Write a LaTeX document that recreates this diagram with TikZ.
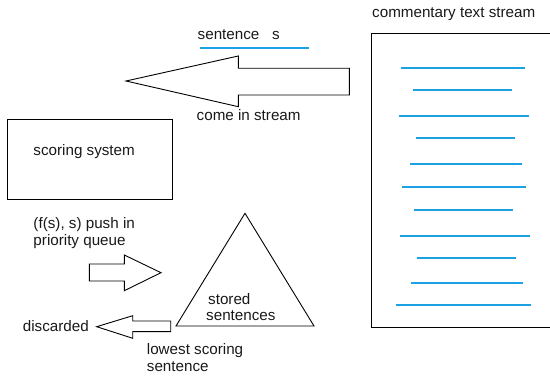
\documentclass[tikz,border=0pt]{standalone}
\usepackage{fontspec}
\setmainfont{Liberation Sans}
\definecolor{streamblue}{RGB}{28,162,228}
\definecolor{inkgray}{RGB}{25,25,25}
\tikzset{
  lbl/.style={anchor=base west, inner sep=0pt, text=inkgray,
    font=\fontsize{15.2}{17}\selectfont},
  outline/.style={draw=black, line width=0.9pt, line join=miter},
  textline/.style={draw=streamblue, line width=1.8pt},
}
\begin{document}
\begin{tikzpicture}[x=1pt, y=-1pt]
  \useasboundingbox (0,0) rectangle (550,379);

  % commentary stream page (right side runs off the edge)
  \node[lbl] (streamtitle) at (372,17.8) {commentary text stream};
  \draw[outline, line width=1.3pt] (552,33.3) -- (371.7,33.3) -- (371.7,327.3) -- (552,327.3);
  \foreach \xa/\xb/\yy in {401/525/68, 413/512/90, 399/529/116, 416/515/138,
      410/522/164, 402/526/187, 414/513/210, 400/530/236, 417/516/258,
      411/523/283, 396/531/305}
    \draw[textline] (\xa,\yy) -- (\xb,\yy);

  % incoming sentence
  \node[lbl] (sent) at (197.5,40) {sentence \ \ s};
  \draw[textline] (200,48) -- (309,48);
  \draw[outline] (126,81) -- (238.3,56) -- (238.3,68.3) -- (349.3,68.3)
    -- (349.3,95) -- (238.3,95) -- (238.3,106.7) -- cycle;
  \node[lbl] (come) at (196.5,120.7) {come in stream};

  % scoring system
  \draw[outline] (7.3,119) rectangle (172.3,199.3);
  \node[lbl] (scoring) at (33.3,156) {scoring system};

  % push into priority queue
  \node[lbl] (push) at (33.3,229) {(f(s), s) push in};
  \node[lbl] (prio) at (33.3,246) {priority queue};
  \draw[outline] (89.3,264) -- (124.3,264) -- (124.3,255) -- (161,272.7)
    -- (124.3,290.7) -- (124.3,281) -- (89.3,281) -- cycle;

  % priority queue heap
  \draw[outline] (245,213.3) -- (314,326) -- (176,326) -- cycle;
  \node[lbl] (stored) at (208,304.5) {stored};
  \node[lbl] (storedb) at (206,320.8) {sentences};

  % discarded lowest sentence
  \draw[outline] (96.7,326.7) -- (132.7,315.7) -- (132.7,321) -- (170.7,321)
    -- (170.7,331.7) -- (132.7,331.7) -- (132.7,338.3) -- cycle;
  \node[lbl] (disc) at (22.7,331.3) {discarded};
  \node[lbl] (low) at (146.7,355) {lowest scoring};
  \node[lbl] (lowb) at (146.7,371.7) {sentence};
\end{tikzpicture}
\end{document}
